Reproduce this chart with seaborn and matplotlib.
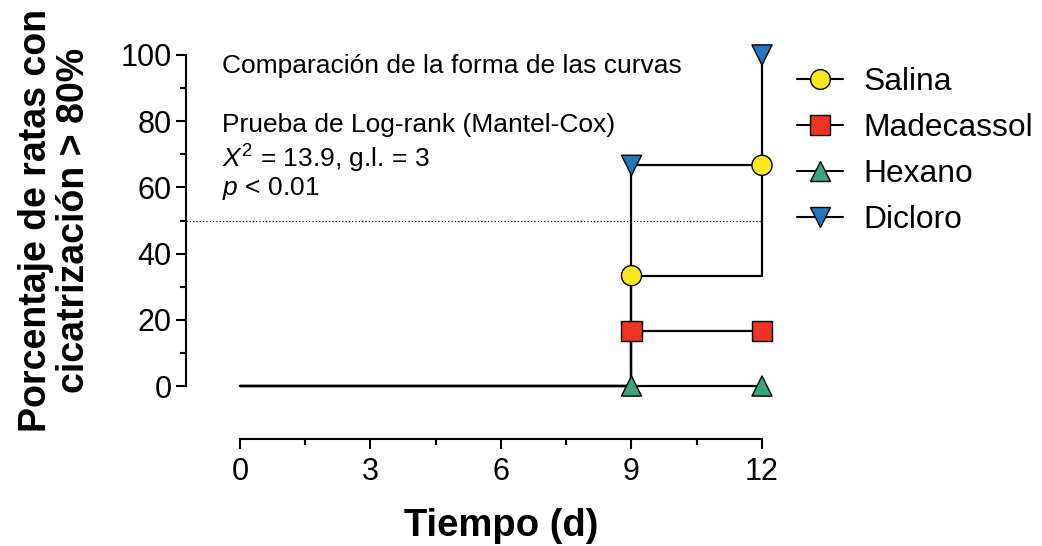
import pandas as pd
import matplotlib
matplotlib.use('Agg')
import matplotlib.pyplot as plt
from matplotlib.lines import Line2D
from matplotlib.ticker import FixedLocator
import seaborn as sns

# datos (porcentaje acumulado de ratas con cicatrización > 80%)
dias = [0, 9, 12]
salina = [0, 33.33, 66.67]
madecassol = [0, 16.67, 16.67]
hexano = [0, 0, 0]
dicloro = [0, 66.67, 100]

grupos = ['Salina', 'Madecassol', 'Hexano', 'Dicloro']
colores = ['#F7E71C', '#EE3325', '#3AA57B', '#2676BD']
marcadores = ['o', 's', '^', 'v']
x_ticks = [0, 3, 6, 9, 12]
x_minor = [1.5, 4.5, 7.5, 10.5]
y_ticks = [0, 20, 40, 60, 80, 100]
y_minor = [10, 30, 50, 70, 90]

sns.set_style('ticks')
plt.rcParams['font.family'] = ['Liberation Sans', 'DejaVu Sans']
plt.rcParams['mathtext.fontset'] = 'custom'
plt.rcParams['mathtext.rm'] = 'Liberation Sans'
plt.rcParams['mathtext.it'] = 'Liberation Sans:italic'
for k in ['text.color', 'axes.labelcolor', 'xtick.color', 'ytick.color']:
    plt.rcParams[k] = 'black'

df = pd.DataFrame({
    'Tiempo': dias * len(grupos),
    'Porcentaje': salina + madecassol + hexano + dicloro,
    'Grupo': [g for g in grupos for _ in dias],
})

fig = plt.figure(figsize=(10.42, 5.46), dpi=100)
ax = fig.add_axes([0.1785, 0.196, 0.5653, 0.7033])

# curvas escalonadas
sns.lineplot(data=df, x='Tiempo', y='Porcentaje', units='Grupo', estimator=None,
             color='black', lw=1.6, drawstyle='steps-post', sort=False,
             legend=False, ax=ax, clip_on=False, zorder=2)

# marcadores solo en los eventos
sns.scatterplot(data=df[df['Tiempo'] > 0], x='Tiempo', y='Porcentaje',
                hue='Grupo', style='Grupo',
                palette=dict(zip(grupos, colores)),
                markers=dict(zip(grupos, marcadores)),
                s=210, edgecolor='black', linewidth=1,
                legend=False, ax=ax, clip_on=False, zorder=3)

# línea del 50 %
ax.axhline(50, xmin=0, xmax=0.978, color='black', lw=0.9, ls=':', zorder=1)

ax.set_xlim(-1.241, 12.3)
ax.set_ylim(-16.0, 100)
ax.spines[['top', 'right']].set_visible(False)
ax.spines['left'].set_bounds(0, 100)
ax.spines['bottom'].set_bounds(0, 12)
for s in ['left', 'bottom']:
    ax.spines[s].set_linewidth(1.5)
    ax.spines[s].set_color('black')

ax.set_xticks(x_ticks)
ax.set_yticks(y_ticks)
ax.xaxis.set_minor_locator(FixedLocator(x_minor))
ax.yaxis.set_minor_locator(FixedLocator(y_minor))
ax.tick_params(which='major', length=7, width=1.5, labelsize=22)
ax.tick_params(axis='x', which='major', pad=6)
ax.tick_params(axis='y', which='major', pad=3.5)
ax.tick_params(which='minor', length=4, width=1.5)

ax.set_xlabel('Tiempo (d)', fontsize=27.5, fontweight='bold')
ax.xaxis.label.set_va('center')
ax.xaxis.set_label_coords(0.535, -0.226)
ax.set_ylabel('Porcentaje de ratas con\ncicatrización > 80%', fontsize=27,
              fontweight='bold', linespacing=1.08)
ax.yaxis.label.set_va('center')
ax.yaxis.set_label_coords(-0.222, 0.570)

# texto de la prueba
ax.text(0.0611, 0.953, 'Comparación de la forma de las curvas', transform=ax.transAxes,
        fontsize=19, va='baseline')
ax.text(0.0611, 0.799, 'Prueba de Log-rank (Mantel-Cox)', transform=ax.transAxes,
        fontsize=19, va='baseline')
ax.text(0.0611, 0.708, r'$\mathit{X}^{2}$ = 13.9, g.l. = 3', transform=ax.transAxes,
        fontsize=19, va='baseline')
ax.text(0.0611, 0.635, r'$\mathit{p}$ < 0.01', transform=ax.transAxes,
        fontsize=19, va='baseline')

handles = [Line2D([], [], color='black', lw=1.5, marker=m, markersize=14.2,
                  markerfacecolor=c, markeredgecolor='black', markeredgewidth=1)
           for m, c in zip(marcadores, colores)]
ax.legend(handles, grupos, loc='upper left', bbox_to_anchor=(797 / 1042, 1 - 67 / 546),
          bbox_transform=fig.transFigure, frameon=False, fontsize=22.9,
          handlelength=1.45, handletextpad=0.65, labelspacing=0.5,
          borderpad=0, borderaxespad=0)

fig.savefig('out.png', dpi=100)
